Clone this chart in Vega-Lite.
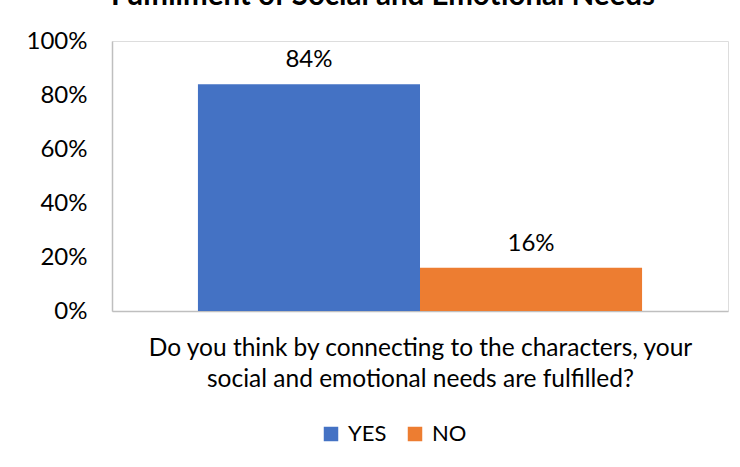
{
  "$schema": "https://vega.github.io/schema/vega-lite/v6.json",
  "autosize": "none",
  "width": 616,
  "height": 270,
  "padding": {"left": 112, "top": 41, "right": 12, "bottom": 156},
  "background": "white",
  "title": {
    "text": "Fulfillment of Social and Emotional Needs",
    "font": "Lato",
    "fontSize": 29.5,
    "fontWeight": "bold",
    "color": "#000000",
    "anchor": "middle",
    "dx": -37,
    "dy": 5,
    "baseline": "alphabetic",
    "offset": 0
  },
  "data": {
    "values": [
      {"answer": "YES", "value": 0.84},
      {"answer": "NO", "value": 0.16}
    ]
  },
  "encoding": {
    "x": {
      "field": "answer",
      "type": "nominal",
      "sort": ["YES", "NO"],
      "scale": {"paddingInner": 0, "paddingOuter": 0.387},
      "axis": {
        "labels": false,
        "ticks": false,
        "domain": true,
        "domainColor": "#BFBFBF",
        "domainWidth": 1.5,
        "title": ["Do you think by connecting to the characters, your", "social and emotional needs are fulfilled?"],
        "titleFont": "Lato",
        "titleFontSize": 24.5,
        "titleFontWeight": "normal",
        "titleColor": "#000000",
        "titleLineHeight": 31,
        "titlePadding": 25
      }
    },
    "y": {
      "field": "value",
      "type": "quantitative",
      "scale": {"domain": [0, 1]},
      "axis": {
        "values": [0, 0.2, 0.4, 0.6, 0.8, 1],
        "format": ".0%",
        "grid": false,
        "ticks": false,
        "domain": true,
        "domainColor": "#BFBFBF",
        "domainWidth": 1.5,
        "labelFont": "Lato",
        "labelFontSize": 24,
        "labelColor": "#000000",
        "labelPadding": 25,
        "title": null
      }
    }
  },
  "layer": [
    {
      "mark": {"type": "bar"},
      "encoding": {
        "color": {
          "field": "answer",
          "type": "nominal",
          "scale": {"domain": ["YES", "NO"], "range": ["#4472C4", "#ED7D31"]},
          "legend": {
            "orient": "none",
            "legendX": 208,
            "legendY": 382,
            "direction": "horizontal",
            "title": null,
            "symbolType": "square",
            "symbolSize": 210,
            "symbolStrokeWidth": 0,
            "labelFont": "Lato",
            "labelFontSize": 22,
            "labelColor": "#000000",
            "labelOffset": 6,
            "columnPadding": 17
          }
        }
      }
    },
    {
      "mark": {"type": "text", "dy": -12, "baseline": "bottom", "font": "Lato", "fontSize": 24, "color": "#000000"},
      "encoding": {
        "text": {"field": "value", "type": "quantitative", "format": ".0%"}
      }
    }
  ]
}
